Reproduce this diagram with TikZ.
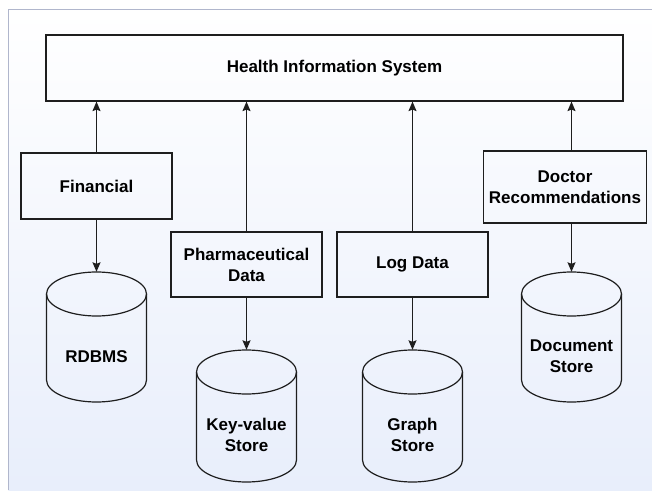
\documentclass[tikz,border=0pt]{standalone}
\usepackage{fontspec}
\setmainfont{Liberation Sans}
\usetikzlibrary{arrows.meta,calc}
\definecolor{framegray}{RGB}{176,182,204}
\definecolor{bgbottom}{RGB}{232,238,251}
\definecolor{linegray}{RGB}{30,30,30}
\tikzset{
  box/.style={draw=linegray, line width=1.2pt, fill=none, minimum width=151pt, minimum height=66pt,
    align=center, font=\fontsize{17}{21}\selectfont\bfseries, inner sep=0pt},
  dbhold/.style={minimum width=100pt, inner sep=0pt, align=center},
  dblabel/.style={font=\fontsize{17}{21}\selectfont\bfseries, align=center, inner sep=0pt},
  link/.style={draw=linegray, line width=1.1pt, -{Stealth[length=9.5pt,width=8pt,inset=1.5pt]}},
  cyl/.style={draw=linegray, line width=1.2pt}
}
% cylinder: #1 = center x, #2 = top y, #3 = bottom y
\newcommand{\mycyl}[3]{%
  \draw[cyl] (#1,#2-22) ellipse[x radius=50, y radius=22];
  \draw[cyl] (#1-50,#2-22) -- (#1-50,#3+22) arc[start angle=180, end angle=360, x radius=50, y radius=22] -- (#1+50,#2-22);
}
\begin{document}
\begin{tikzpicture}[x=1pt,y=1pt]
\useasboundingbox (0,0) rectangle (652,490);
\fill[white] (0,0) rectangle (652,490);
\shade[top color=white, bottom color=bgbottom] (8.3,0) rectangle (652,480.5);
\draw[framegray, line width=1.2pt] (8.3,0) -- (8.3,480.5) -- (652,480.5);

% top box
\node[box, minimum width=577pt] (his) at (334.5,422) {Health Information System};

% middle boxes
\node[box] (fin) at (96.5,304) {Financial};
\node[box, minimum height=65pt] (pharm) at (246.5,225.5) {Pharmaceutical\\Data};
\node[box, minimum height=65pt] (logd) at (412.5,225.5) {Log Data};
\node[box, minimum width=163.5pt, minimum height=72pt] (doc) at (565,303) {Doctor\\Recommendations};

% cylinders
\mycyl{96.5}{218}{88}
\mycyl{246.5}{140}{8}
\mycyl{412.5}{140}{8}
\mycyl{571.5}{218}{88}
\node[dbhold, minimum height=130pt] (rdbms) at (96.5,153) {};
\node[dbhold, minimum height=132pt] (kv) at (246.5,74) {};
\node[dbhold, minimum height=132pt] (graph) at (412.5,74) {};
\node[dbhold, minimum height=130pt] (dstore) at (571.5,153) {};
\node[dblabel] (rdbmst) at (96.5,133) {RDBMS};
\node[dblabel] (kvt) at (246.5,55) {Key-value\\Store};
\node[dblabel] (grapht) at (412.5,55) {Graph\\Store};
\node[dblabel] (dstoret) at (571.5,133.5) {Document\\Store};

% connectors
\draw[link] (fin.north) -- (his.south -| fin.north);
\draw[link] (pharm.north -| kv.north) -- (his.south -| kv.north);
\draw[link] (logd.north) -- (his.south -| logd.north);
\draw[link] (doc.north -| dstore.north) -- (his.south -| dstore.north);

\draw[link] (fin.south) -- (rdbms.north);
\draw[link] (pharm.south -| kv.north) -- (kv.north);
\draw[link] (logd.south) -- (graph.north);
\draw[link] (doc.south -| dstore.north) -- (dstore.north);
\end{tikzpicture}
\end{document}
